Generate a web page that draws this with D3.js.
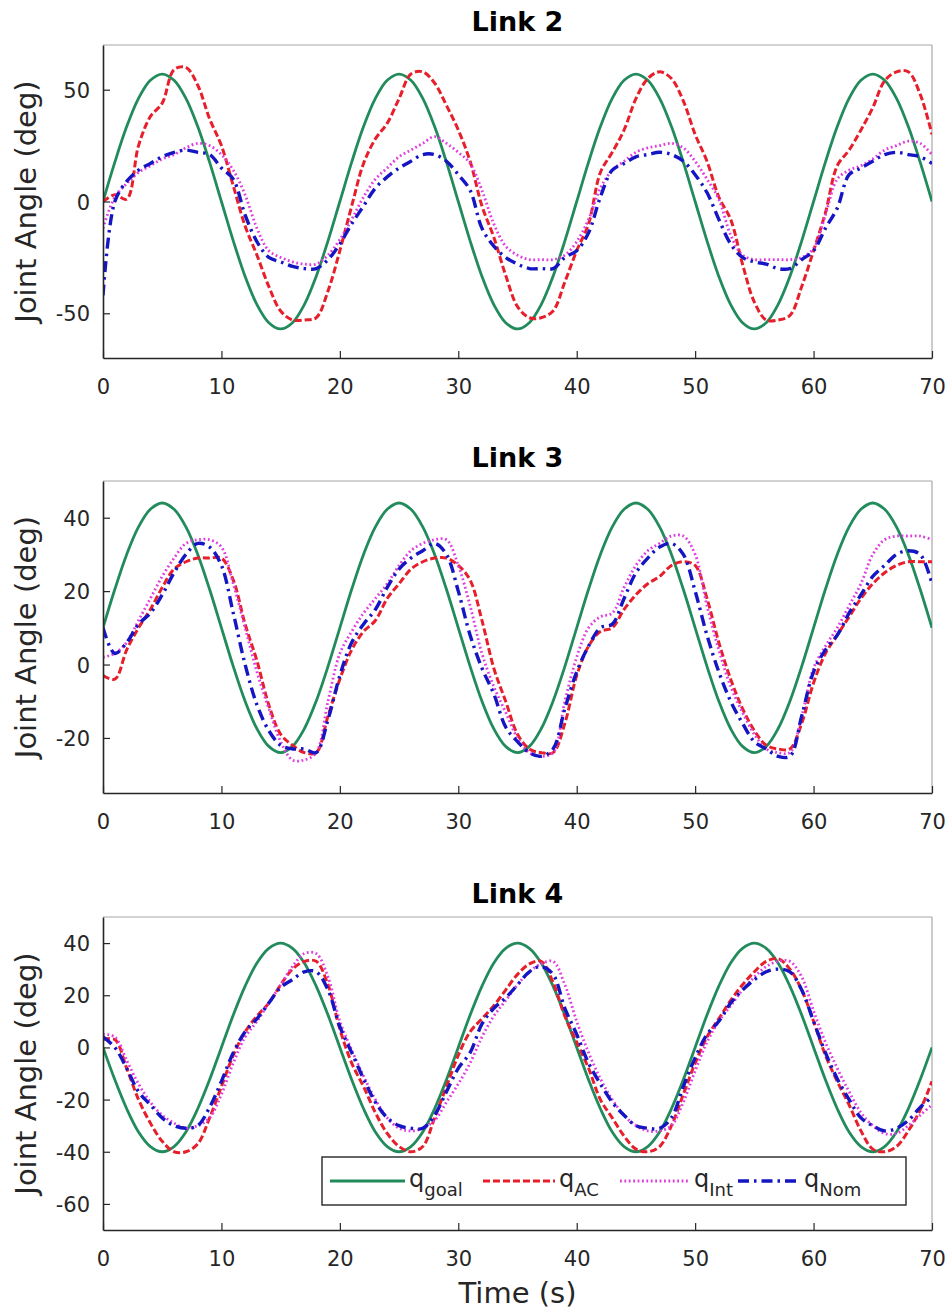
<!DOCTYPE html>
<html>
<head>
<meta charset="utf-8">
<script src="https://cdn.jsdelivr.net/npm/d3@7"></script>
<style>
  html, body { margin: 0; padding: 0; background: #fff; }
  svg { display: block; font-family: "DejaVu Sans", sans-serif; }
</style>
</head>
<body>
<svg id="chart" width="951" height="1310"></svg>
<script>
const time = d3.range(0, 71, 1);
const xTicks = [0, 10, 20, 30, 40, 50, 60, 70];
const titles = ["Link 2", "Link 3", "Link 4"];
const yDomains = [[-70, 70], [-35, 50], [-70, 50]];
const yTicks = [[-50, 0, 50], [-20, 0, 20, 40], [-60, -40, -20, 0, 20, 40]];
const seriesNames = ["goal", "AC", "Int", "Nom"];

// Link 2
const goal2 = [0,17.6,33.5,46.1,54.2,57,54.2,46.1,33.5,17.6,0,-17.6,-33.5,-46.1,-54.2,-57,-54.2,-46.1,-33.5,-17.6,
  0,17.6,33.5,46.1,54.2,57,54.2,46.1,33.5,17.6,0,-17.6,-33.5,-46.1,-54.2,-57,-54.2,-46.1,-33.5,-17.6,
  0,17.6,33.5,46.1,54.2,57,54.2,46.1,33.5,17.6,0,-17.6,-33.5,-46.1,-54.2,-57,-54.2,-46.1,-33.5,-17.6,
  0,17.6,33.5,46.1,54.2,57,54.2,46.1,33.5,17.6,0];
const ac2 = [0,3,1,25,38,44,59,60,52,37,25,7,-11,-24,-38,-49,-53,-53,-52,-40,
  -22,-2,17,28,35,46,57,58,53,43,32,18,-2,-16,-33,-47,-52,-52,-49,-36,
  -22,-10,13,22,32,46,55,58,55,45,30,18,2,-8,-28,-45,-53,-53,-51,-38,
  -22,-5,16,23,32,42,54,58,58,48,30];
const int2 = [-12,2,8,13,16,19,21,24,26,25,21,14,3,-12,-22,-25,-27,-28,-28,-24,
  -17,-8,2,10,15,20,23,26,29,26,22,17,5,-10,-20,-24,-26,-26,-26,-24,
  -18,-8,6,14,18,22,24,25,26,24,18,10,1,-15,-24,-26,-26,-26,-26,-25,
  -21,-6,10,14,16,19,23,25,27,26,21];
const nom2 = [-42,0,9,14,17,20,22,23,22,21,15,10,-6,-18,-25,-27,-29,-30,-30,-26,
  -19,-10,-2,6,11,15,18,21,21,18,12,5,-12,-20,-25,-28,-30,-30,-30,-25,
  -22,-14,2,14,17,20,21,22,21,18,12,4,-8,-19,-25,-27,-28,-30,-30,-26,
  -22,-12,-3,12,15,18,21,22,21,20,17];

// Link 3
const goal3 = [10,20.5,30,37.5,42.3,44,42.3,37.5,30,20.5,10,-0.5,-10,-17.5,-22.3,-24,-22.3,-17.5,-10,-0.5,
  10,20.5,30,37.5,42.3,44,42.3,37.5,30,20.5,10,-0.5,-10,-17.5,-22.3,-24,-22.3,-17.5,-10,-0.5,
  10,20.5,30,37.5,42.3,44,42.3,37.5,30,20.5,10,-0.5,-10,-17.5,-22.3,-24,-22.3,-17.5,-10,-0.5,
  10,20.5,30,37.5,42.3,44,42.3,37.5,30,20.5,10];
const ac3 = [-3,-4,4,10,15,21,26,28,29,29,29,23,11,1,-11,-19,-22,-24,-24,-14,
  -4,4,9,12,18,22,26,28,29,29,27,23,12,-1,-10,-19,-23,-24,-24,-16,
  -3,5,9,10,15,19,22,24,27,28,27,18,6,-4,-12,-18,-22,-23,-23,-16,
  -5,3,8,13,18,22,25,27,28,28,28];
const int3 = [2,3,6,12,18,24,29,33,34,34,32,22,10,-2,-12,-21,-26,-26,-24,-10,
  3,9,14,18,22,27,31,33,34,34,27,16,3,-6,-13,-20,-24,-25,-24,-10,
  2,10,13,14,21,27,31,33,35,35,30,16,4,-6,-13,-19,-23,-24,-24,-14,
  -1,5,10,16,22,30,34,35,35,35,34];
const nom3 = [10,3,6,11,14,19,25,30,33,32,27,14,0,-11,-18,-22,-23,-23,-24,-15,
  -3,6,11,15,21,26,29,31,33,30,20,8,-1,-8,-17,-21,-24,-25,-23,-12,
  -2,5,10,11,18,25,29,32,33,30,20,8,-2,-10,-16,-21,-23,-25,-25,-14,
  -2,4,8,14,19,24,27,30,31,30,22];

// Link 4
const goal4 = [0,-12.4,-23.5,-32.4,-38,-40,-38,-32.4,-23.5,-12.4,0,12.4,23.5,32.4,38,40,38,32.4,23.5,12.4,
  0,-12.4,-23.5,-32.4,-38,-40,-38,-32.4,-23.5,-12.4,0,12.4,23.5,32.4,38,40,38,32.4,23.5,12.4,
  0,-12.4,-23.5,-32.4,-38,-40,-38,-32.4,-23.5,-12.4,0,12.4,23.5,32.4,38,40,38,32.4,23.5,12.4,
  0,-12.4,-23.5,-32.4,-38,-40,-38,-32.4,-23.5,-12.4,0];
const ac4 = [3,3,-8,-20,-29,-36,-40,-40,-37,-27,-15,-3,6,12,17,24,30,33,33,24,
  7,-6,-15,-25,-33,-38,-40,-38,-27,-15,-3,6,11,16,22,28,32,33,25,12,
  2,-8,-20,-27,-34,-39,-40,-38,-30,-18,-6,4,11,18,24,29,33,34,30,22,
  10,-3,-13,-22,-32,-39,-40,-38,-32,-24,-13];
const int4 = [5,4,-5,-14,-21,-26,-29,-31,-30,-27,-18,-6,4,10,17,24,31,36,36,27,
  10,-1,-11,-20,-27,-31,-32,-31,-28,-21,-14,-6,4,12,18,24,29,32,33,24,
  10,-2,-12,-20,-26,-30,-32,-32,-30,-21,-9,2,10,16,22,27,31,33,33,27,
  14,2,-8,-17,-25,-30,-33,-33,-30,-26,-22];
const nom4 = [4,0,-8,-17,-22,-27,-30,-31,-30,-23,-13,-2,6,11,17,23,26,29,29,22,
  8,-2,-12,-21,-27,-30,-31,-31,-26,-17,-8,-2,9,15,19,24,29,31,28,15,
  5,-6,-14,-21,-26,-30,-31,-31,-27,-15,-4,5,10,17,22,26,29,30,29,22,
  10,-2,-12,-20,-27,-30,-32,-31,-28,-23,-19];

const panelSeries = [
  [goal2, ac2, int2, nom2],
  [goal3, ac3, int3, nom3],
  [goal4, ac4, int4, nom4]
];

// ---------- STYLE / LAYOUT ----------
const styles = {
  goal: { color: "#228b5c", width: 2.8, dash: null },
  AC:   { color: "#e61f2b", width: 3.0, dash: "7,3" },
  Int:  { color: "#e03ce0", width: 2.8, dash: "1.8,2.6" },
  Nom:  { color: "#1515c4", width: 3.4, dash: "11,5,2.5,5" }
};
const left = 103, right = 932;
const panels = [
  { top: 45, bottom: 358 },
  { top: 481, bottom: 793 },
  { top: 917, bottom: 1230 }
];
const axisColor = "#262626";
const fmt = d => String(d); // hyphen-minus like the original

const svg = d3.select("#chart");
const x = d3.scaleLinear().domain([0, 70]).range([left, right]);

panels.forEach((p, i) => {
  const y = d3.scaleLinear().domain(yDomains[i]).range([p.bottom, p.top]);
  const g = svg.append("g");

  const clipId = "clip" + i;
  svg.append("clipPath").attr("id", clipId).append("rect")
    .attr("x", left).attr("y", p.top).attr("width", right - left).attr("height", p.bottom - p.top);

  g.append("line").attr("x1", left).attr("x2", right).attr("y1", p.top).attr("y2", p.top)
    .attr("stroke", "#a8a8a8").attr("stroke-width", 1.2);
  g.append("line").attr("x1", right).attr("x2", right).attr("y1", p.top).attr("y2", p.bottom)
    .attr("stroke", "#a8a8a8").attr("stroke-width", 1.2);

  const lineGen = d3.line()
    .x((d, k) => x(time[k]))
    .y(d => y(d))
    .curve(d3.curveCatmullRom.alpha(0.5));
  const lg = g.append("g").attr("clip-path", `url(#${clipId})`);
  panelSeries[i].forEach((vals, s) => {
    const st = styles[seriesNames[s]];
    lg.append("path").datum(vals)
      .attr("d", lineGen)
      .attr("fill", "none")
      .attr("stroke", st.color)
      .attr("stroke-width", st.width)
      .attr("stroke-dasharray", st.dash)
      .attr("stroke-linejoin", "round");
  });

  const xa = g.append("g").attr("transform", `translate(0,${p.bottom})`)
    .call(d3.axisBottom(x).tickValues(xTicks).tickSizeInner(-7).tickSizeOuter(0).tickPadding(0).tickFormat(fmt));
  xa.select(".domain").attr("stroke", axisColor).attr("stroke-width", 1.6);
  xa.selectAll(".tick line").attr("stroke", axisColor).attr("stroke-width", 1.2);
  xa.selectAll(".tick text").attr("y", 36).attr("dy", null)
    .attr("font-size", 21).attr("fill", axisColor).attr("font-family", "DejaVu Sans");

  const ya = g.append("g").attr("transform", `translate(${left},0)`)
    .call(d3.axisLeft(y).tickValues(yTicks[i]).tickSizeInner(-7).tickSizeOuter(0).tickPadding(0).tickFormat(fmt));
  ya.select(".domain").attr("stroke", axisColor).attr("stroke-width", 1.6);
  ya.selectAll(".tick line").attr("stroke", axisColor).attr("stroke-width", 1.2);
  ya.selectAll(".tick text").attr("x", -13).attr("dy", "0.36em")
    .attr("font-size", 21).attr("fill", axisColor).attr("font-family", "DejaVu Sans");

  g.append("text").attr("x", (left + right) / 2).attr("y", p.top - 14)
    .attr("text-anchor", "middle").attr("font-size", 27).attr("font-weight", "bold")
    .attr("fill", "#000").text(titles[i]);

  g.append("text")
    .attr("transform", `translate(36,${(p.top + p.bottom) / 2}) rotate(-90)`)
    .attr("text-anchor", "middle").attr("font-size", 29).attr("fill", axisColor)
    .text("Joint Angle (deg)");
});

svg.append("text").attr("x", (left + right) / 2).attr("y", 1303)
  .attr("text-anchor", "middle").attr("font-size", 29).attr("fill", axisColor)
  .text("Time (s)");

// ---------- LEGEND ----------
const legendItems = [
  { key: "goal", sub: "goal", x1: 330, x2: 405 },
  { key: "AC", sub: "AC", x1: 483, x2: 555 },
  { key: "Int", sub: "Int", x1: 620, x2: 690 },
  { key: "Nom", sub: "Nom", x1: 738, x2: 800 }
];
const lgd = svg.append("g");
lgd.append("rect").attr("x", 322).attr("y", 1157).attr("width", 584).attr("height", 48)
  .attr("fill", "#fff").attr("stroke", "#262626").attr("stroke-width", 1.4);
legendItems.forEach(it => {
  const st = styles[it.key];
  lgd.append("line").attr("x1", it.x1).attr("x2", it.x2).attr("y1", 1181).attr("y2", 1181)
    .attr("stroke", st.color).attr("stroke-width", st.width).attr("stroke-dasharray", st.dash);
  const t = lgd.append("text").attr("x", it.x2 + 4).attr("y", 1187).attr("fill", axisColor);
  t.append("tspan").attr("font-size", 24).text("q");
  t.append("tspan").attr("font-size", 18).attr("dy", 9).text(it.sub);
});
</script>
</body>
</html>
